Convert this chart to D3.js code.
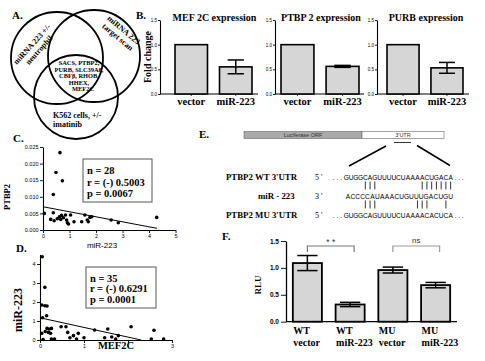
<!DOCTYPE html>
<html>
<head>
<meta charset="utf-8">
<script src="https://cdn.jsdelivr.net/npm/d3@7"></script>
<style>
  body { margin: 0; background: #fff; }
  svg { display: block; }
</style>
</head>
<body>
<div id="chart"></div>
<script>
// ---- panel A (venn) ----
const vennSets = ["neutrophil", "target scan", "K562"];
const vennShared = ["SACS, PTBP2,", "PURB, SLC39A8,", "CBF\u03B2, RHOB,", "HHEX,", "MEF2C"];

// ---- panel B ----
const bTitles = ["MEF 2C expression", "PTBP 2 expression", "PURB expression"];
const bGroups = ["vector", "miR-223"];
const bMeans = [[1.0, 0.55], [1.0, 0.56], [1.0, 0.53]];
const bErrs = [[0, 0.14], [0, 0.02], [0, 0.11]];
const bTicks = [0, 0.5, 1.0, 1.5];

// ---- panel C ----
const cMir = [0.64, 0.49, 0.73, 0.39, 0.05, 0.39, 0.29, 0.42, 0.54, 0.62, 0.70, 0.67, 0.77, 0.85,
              0.89, 0.92, 0.96, 1.04, 1.17, 1.46, 1.58, 1.67, 1.71, 1.77, 1.84, 2.57, 2.84, 4.29];
const cPtbp2 = [0.0233, 0.0173, 0.0148, 0.0107, 0.0050, 0.0052, 0.0032, 0.0028, 0.0034, 0.0040, 0.0044, 0.0032, 0.0037, 0.0045,
                0.0030, 0.0022, 0.0018, 0.0045, 0.0025, 0.0025, 0.0045, 0.0030, 0.0025, 0.0038, 0.0040, 0.0030, 0.0022, 0.0038];
const cFitX = [0, 4.3];
const cFitY = [0.0070, 0.0005];
const cStats = ["n = 28", "r = (-) 0.5003", "p = 0.0067"];

// ---- panel D ----
const dMef = [0.05, 0.11, 0.04, 0.11, 0.16, 0.15, 0.06, 0.04, 0.16, 0.21, 0.26, 0.19, 0.24, 0.26, 0.48, 0.59, 0.63, 0.68,
              0.76, 0.83, 0.87, 1.00, 1.24, 1.47, 1.54, 1.63, 1.72, 1.78, 2.07, 2.53, 2.59, 2.81, 0.07, 0.33, 0.12];
const dMir = [4.38, 2.77, 1.84, 1.80, 1.79, 1.28, 1.17, 0.35, 0.61, 0.58, 0.61, 0.40, 0.35, 0.05, 0.70, 0.70, 0.40, 0.12,
              0.23, 0.05, 0.35, 0.12, 0.53, 0.12, 0.58, 0.16, 0.05, 0.23, 0.70, 0.05, 0.51, 0.05, 0.03, 0.05, 0.45];
const dFitX = [0, 2.3];
const dFitY = [1.17, 0];
const dStats = ["n = 35", "r = (-) 0.6291", "p = 0.0001"];

// ---- panel E ----
const eWT = "GUGGCAGUUUUCUAAAACUGACA";
const eMir = "ACCCCAUAAACUGUUUGACUGU";
const eMU = "GUGGCAGUUUUCUAAAACACUCA";
const ePairsTop = [4, 5, 6, 16, 17, 18, 19, 20, 21, 22];
const ePairsBottom = [4, 5, 6, 15, 16, 17, 21];

// ---- panel F ----
const fGroups = [["WT", "vector"], ["WT", "miR-223"], ["MU", "vector"], ["MU", "miR-223"]];
const fMeans = [1.09, 0.32, 0.96, 0.68];
const fErrs = [0.14, 0.04, 0.055, 0.05];
const fTicks = [0, 0.5, 1.0, 1.5];

const serif = '"Liberation Serif","Times New Roman",serif';
const sans = '"Liberation Sans",Arial,sans-serif';
const barFill = "#d6d6d6";

const svg = d3.select("#chart").append("svg")
    .attr("width", 485)
    .attr("height", 361);

function txt(x, y, s, size, opts = {}) {
    const t = svg.append("text")
        .attr("x", x).attr("y", y)
        .attr("font-family", opts.family || serif)
        .attr("font-weight", opts.weight || "bold")
        .attr("font-size", size)
        .attr("fill", opts.fill || "#000")
        .attr("text-anchor", opts.anchor || "start")
        .text(s);
    if (opts.rotate) t.attr("transform", `rotate(${opts.rotate},${x},${y})`);
    return t;
}

function styleAxis(g, size, family, weight) {
    g.selectAll("path.domain").attr("stroke", "#000").attr("stroke-width", 1.1);
    g.selectAll(".tick line").attr("stroke", "#000").attr("stroke-width", 0.9);
    g.selectAll(".tick text").attr("font-size", size).attr("font-family", family)
        .attr("font-weight", weight || "normal").attr("fill", "#000");
}

// panel labels
txt(12, 19, "A.", 11);
txt(136, 19, "B.", 11);
txt(13, 142, "C.", 11);
txt(16, 252, "D.", 11);
txt(199, 138, "E.", 11);
txt(222, 240, "F.", 11);

// ================= A: Venn =================
const vennGeo = [
    {cx: 57, cy: 58, r: 46},
    {cx: 94, cy: 56, r: 46},
    {cx: 76, cy: 97, r: 42}
];
svg.selectAll(".venn")
    .data(vennSets)
    .enter()
    .append("circle")
    .attr("class", "venn")
    .attr("cx", (d, i) => vennGeo[i].cx)
    .attr("cy", (d, i) => vennGeo[i].cy)
    .attr("r", (d, i) => vennGeo[i].r)
    .attr("fill", "none")
    .attr("stroke", "#000")
    .attr("stroke-width", 1.8);

txt(34, 46, "miRNA 223 +/-", 8, {anchor: "middle", rotate: -48});
txt(41, 52, "neutrophil", 8, {anchor: "middle", rotate: -48});
txt(122, 32, "miRNA 223", 8, {anchor: "middle", rotate: 40});
txt(116, 39, "target scan", 8, {anchor: "middle", rotate: 40});
vennShared.forEach((s, i) => {
    txt(i === 4 ? 83 : 79, 65 + i * 6.6, s, 6.4, {anchor: "middle"});
});
txt(53, 118, "K562 cells,  +/-", 8);
txt(53, 127, "imatinib", 8);

// ================= B: bar charts =================
const bLayout = [
    {axis: 160, range: [175, 252], end: 258},
    {axis: 275, range: [281, 359], end: 364},
    {axis: 377, range: [387, 463], end: 469}
];
const bY = d3.scaleLinear().domain([0, 1.5]).range([94, 20]);

txt(151, 57, "Fold change", 10, {anchor: "middle", rotate: -90});

bTitles.forEach((title, i) => {
    const L = bLayout[i];
    const x = d3.scaleBand().domain(bGroups).range(L.range).paddingInner(0.27);
    const rows = bGroups.map((k, j) => ({k, mean: bMeans[i][j], err: bErrs[i][j]}));

    const ya = svg.append("g")
        .attr("transform", `translate(${L.axis},0)`)
        .call(d3.axisLeft(bY).tickValues(bTicks).tickFormat(d3.format(".1f"))
            .tickSize(2).tickSizeOuter(0).tickPadding(1));
    styleAxis(ya, 4.5, sans);

    svg.append("line")
        .attr("x1", L.axis).attr("x2", L.end)
        .attr("y1", bY(0)).attr("y2", bY(0))
        .attr("stroke", "#000").attr("stroke-width", 1.1);

    svg.selectAll(null).data(rows).enter().append("line")
        .attr("x1", d => x(d.k) + x.bandwidth() / 2).attr("x2", d => x(d.k) + x.bandwidth() / 2)
        .attr("y1", bY(0)).attr("y2", bY(0) + 2)
        .attr("stroke", "#000").attr("stroke-width", 0.8);

    svg.selectAll(null).data(rows).enter().append("rect")
        .attr("x", d => x(d.k))
        .attr("y", d => bY(d.mean))
        .attr("width", x.bandwidth())
        .attr("height", d => bY(0) - bY(d.mean))
        .attr("fill", barFill)
        .attr("stroke", "#000")
        .attr("stroke-width", 1.6);

    const errs = rows.filter(d => d.err > 0);
    const cap = x.bandwidth() * 0.5;
    errs.forEach(d => {
        const cx = x(d.k) + x.bandwidth() / 2;
        const ep = [
            [cx, bY(d.mean - d.err), cx, bY(d.mean + d.err)],
            [cx - cap / 2, bY(d.mean + d.err), cx + cap / 2, bY(d.mean + d.err)],
            [cx - cap / 2, bY(d.mean - d.err), cx + cap / 2, bY(d.mean - d.err)]
        ];
        svg.selectAll(null).data(ep).enter().append("line")
            .attr("x1", p => p[0]).attr("y1", p => p[1])
            .attr("x2", p => p[2]).attr("y2", p => p[3])
            .attr("stroke", "#000").attr("stroke-width", 1.5);
    });

    rows.forEach(d => txt(x(d.k) + x.bandwidth() / 2, 105, d.k, 10.5, {anchor: "middle"}));
    txt((L.range[0] + L.range[1]) / 2 + 1, 21, title, 10, {anchor: "middle"});
});

// ================= C: scatter =================
const cX = d3.scaleLinear().domain([0, 5]).range([43, 175.5]);
const cY = d3.scaleLinear().domain([0, 0.025]).range([230, 147]);

const cya = svg.append("g").attr("transform", "translate(43,0)")
    .call(d3.axisLeft(cY).tickValues([0, 0.005, 0.01, 0.015, 0.02, 0.025])
        .tickFormat(d3.format(".3f")).tickSize(3).tickSizeOuter(0).tickPadding(1.5));
styleAxis(cya, 5.5, sans);
const cxa = svg.append("g").attr("transform", "translate(0,230)")
    .call(d3.axisBottom(cX).ticks(5).tickFormat(d3.format("d")).tickSize(3).tickSizeOuter(0).tickPadding(1));
styleAxis(cxa, 5.5, sans);

svg.selectAll(".cdot").data(cMir).enter().append("circle")
    .attr("class", "cdot")
    .attr("cx", d => cX(d))
    .attr("cy", (d, i) => cY(cPtbp2[i]))
    .attr("r", 1.8)
    .attr("fill", "#000");

svg.append("line")
    .attr("x1", cX(cFitX[0])).attr("y1", cY(cFitY[0]))
    .attr("x2", cX(cFitX[1])).attr("y2", cY(cFitY[1]))
    .attr("stroke", "#000").attr("stroke-width", 1);

svg.append("rect").attr("x", 83).attr("y", 159).attr("width", 69).attr("height", 43)
    .attr("fill", "#fff").attr("stroke", "#555").attr("stroke-width", 1);
cStats.forEach((s, i) => txt(87, 174 + i * 11.5, s, 10.5));

txt(10, 197, "PTBP2", 8.5, {anchor: "middle", rotate: -90});
txt(102, 248, "miR-223", 8, {anchor: "middle", family: sans, weight: "normal"});

// ================= D: scatter =================
const dX = d3.scaleLinear().domain([0, 3]).range([40, 172]);
const dY = d3.scaleLinear().domain([0, 4.5]).range([340, 254.5]);

const dya = svg.append("g").attr("transform", "translate(40,0)")
    .call(d3.axisLeft(dY).tickValues([0, 1, 2, 3, 4]).tickFormat(d3.format("d"))
        .tickSize(3).tickSizeOuter(0).tickPadding(1.5));
styleAxis(dya, 5.5, sans);
const dxa = svg.append("g").attr("transform", "translate(0,340)")
    .call(d3.axisBottom(dX).tickValues([0, 1, 2, 3]).tickFormat(d => d === 2 ? "" : d)
        .tickSize(3).tickSizeOuter(0).tickPadding(1));
styleAxis(dxa, 5.5, sans);

svg.selectAll(".ddot").data(dMef).enter().append("circle")
    .attr("class", "ddot")
    .attr("cx", d => dX(d))
    .attr("cy", (d, i) => dY(dMir[i]))
    .attr("r", 1.8)
    .attr("fill", "#000");

svg.append("line")
    .attr("x1", dX(dFitX[0])).attr("y1", dY(dFitY[0]))
    .attr("x2", dX(dFitX[1])).attr("y2", dY(dFitY[1]))
    .attr("stroke", "#000").attr("stroke-width", 1);

svg.append("rect").attr("x", 86).attr("y", 267).attr("width", 70).attr("height", 41)
    .attr("fill", "#fff").attr("stroke", "#555").attr("stroke-width", 1);
dStats.forEach((s, i) => txt(90, 282 + i * 10.3, s, 10.5));

txt(22, 310, "miR-223", 12, {anchor: "middle", rotate: -90});
txt(116, 349, "MEF2C", 10.5, {anchor: "middle"});

// ================= E: construct + sequences =================
svg.append("rect").attr("x", 244).attr("y", 131.5).attr("width", 118).attr("height", 7)
    .attr("fill", "#a9a9a9").attr("stroke", "#666").attr("stroke-width", 0.6);
svg.append("rect").attr("x", 362).attr("y", 131.5).attr("width", 82).attr("height", 7)
    .attr("fill", "#fff").attr("stroke", "#666").attr("stroke-width", 0.6);
txt(303, 137.2, "Luciferase ORF", 5.5, {anchor: "middle", family: sans, weight: "normal", fill: "#333"});
txt(403, 137.2, "3'UTR", 5.5, {anchor: "middle", family: sans, weight: "normal", fill: "#333"});

const eLines = [
    [394, 142.5, 411, 142.5],
    [386, 146, 349, 166],
    [417, 145.5, 450, 165.5]
];
svg.selectAll(null).data(eLines).enter().append("line")
    .attr("x1", d => d[0]).attr("y1", d => d[1]).attr("x2", d => d[2]).attr("y2", d => d[3])
    .attr("stroke", "#000").attr("stroke-width", (d, i) => i === 0 ? 0.8 : 1.5);

const seqX = d3.scaleLinear().domain([0, eWT.length]).range([344, 453]);
const mirX = d3.scaleLinear().domain([0, eMir.length]).range([345.5, 453]);
const seqRows = [
    {name: "PTBP2 WT 3'UTR", end: "5 '", seq: eWT, sx: seqX, y: 179.5, nx: 226, dots: true},
    {name: "miR - 223", end: "3 '", seq: eMir, sx: mirX, y: 198.5, nx: 258, dots: false},
    {name: "PTBP2 MU 3'UTR", end: "5 '", seq: eMU, sx: seqX, y: 218, nx: 226, dots: true}
];
seqRows.forEach(r => {
    txt(r.nx, r.y, r.name, 8.8);
    txt(315, r.y, r.end, 8, {weight: "normal"});
    svg.selectAll(null).data(r.seq.split("")).enter().append("text")
        .attr("x", (d, i) => r.sx(i + 0.5))
        .attr("y", r.y)
        .attr("text-anchor", "middle")
        .attr("font-family", sans)
        .attr("font-size", 6.6)
        .attr("fill", "#000")
        .text(d => d);
    if (r.dots) {
        txt(r.sx(0) - 2, r.y, ". . .", 6.6, {family: sans, weight: "normal", anchor: "end"});
        txt(r.sx(r.seq.length) + 1.5, r.y, ". . .", 6.6, {family: sans, weight: "normal"});
    }
});
svg.selectAll(null).data(ePairsTop).enter().append("line")
    .attr("x1", d => seqX(d + 0.5)).attr("x2", d => seqX(d + 0.5))
    .attr("y1", 181.5).attr("y2", 189.5)
    .attr("stroke", "#000").attr("stroke-width", 0.8);
svg.selectAll(null).data(ePairsBottom).enter().append("line")
    .attr("x1", d => seqX(d + 0.5)).attr("x2", d => seqX(d + 0.5))
    .attr("y1", 200.5).attr("y2", 208.5)
    .attr("stroke", "#000").attr("stroke-width", 0.8);

// ================= F: luciferase bars =================
const fKeys = fGroups.map(g => g.join(" "));
const fX = d3.scaleBand().domain(fKeys).range([286, 457]).paddingInner(0.32).paddingOuter(0.16);
const fY = d3.scaleLinear().domain([0, 1.5]).range([321.7, 241]);

const fya = svg.append("g").attr("transform", "translate(286,0)")
    .call(d3.axisLeft(fY).tickValues(fTicks).tickFormat(d3.format(".1f"))
        .tickSize(5).tickSizeOuter(0).tickPadding(2));
styleAxis(fya, 6.5, sans, "bold");
fya.selectAll("path.domain").attr("stroke-width", 1.3);

svg.append("line")
    .attr("x1", 286).attr("x2", 457)
    .attr("y1", fY(0)).attr("y2", fY(0))
    .attr("stroke", "#000").attr("stroke-width", 1.3);

svg.selectAll(".fbar").data(fKeys).enter().append("rect")
    .attr("class", "fbar")
    .attr("x", d => fX(d))
    .attr("y", (d, i) => fY(fMeans[i]))
    .attr("width", fX.bandwidth())
    .attr("height", (d, i) => fY(0) - fY(fMeans[i]))
    .attr("fill", barFill)
    .attr("stroke", "#000")
    .attr("stroke-width", 1.8);

fKeys.forEach((k, i) => {
    const cx = fX(k) + fX.bandwidth() / 2;
    const cap = fX.bandwidth() * 0.7;
    const hi = fY(fMeans[i] + fErrs[i]), lo = fY(fMeans[i] - fErrs[i]);
    [[cx, hi, cx, lo], [cx - cap / 2, hi, cx + cap / 2, hi], [cx - cap / 2, lo, cx + cap / 2, lo]]
        .forEach(p => svg.append("line")
            .attr("x1", p[0]).attr("y1", p[1]).attr("x2", p[2]).attr("y2", p[3])
            .attr("stroke", "#000").attr("stroke-width", 1.5));
    txt(fX(k) + 0.5, 333.5, fGroups[i][0], 10);
    txt(fX(k) + 0.5, 345.5, fGroups[i][1], 10);
});

txt(261, 285, "RLU", 9, {anchor: "middle", rotate: -90});

// significance brackets
const fSig = [
    {a: fKeys[0], b: fKeys[1], label: "* *", color: "#777"},
    {a: fKeys[2], b: fKeys[3], label: "ns", color: "#999"}
];
fSig.forEach(s => {
    const x1 = fX(s.a) + fX.bandwidth() / 2, x2 = fX(s.b) + fX.bandwidth() / 2 + 4;
    svg.append("path")
        .attr("d", `M${x1},252V246H${x2}V252`)
        .attr("fill", "none").attr("stroke", s.color).attr("stroke-width", 1.2);
    txt((x1 + x2) / 2, s.label === "ns" ? 243 : 245, s.label, s.label === "ns" ? 8 : 8.5,
        {anchor: "middle", family: sans, weight: "normal", fill: "#333"});
});
</script>
</body>
</html>
